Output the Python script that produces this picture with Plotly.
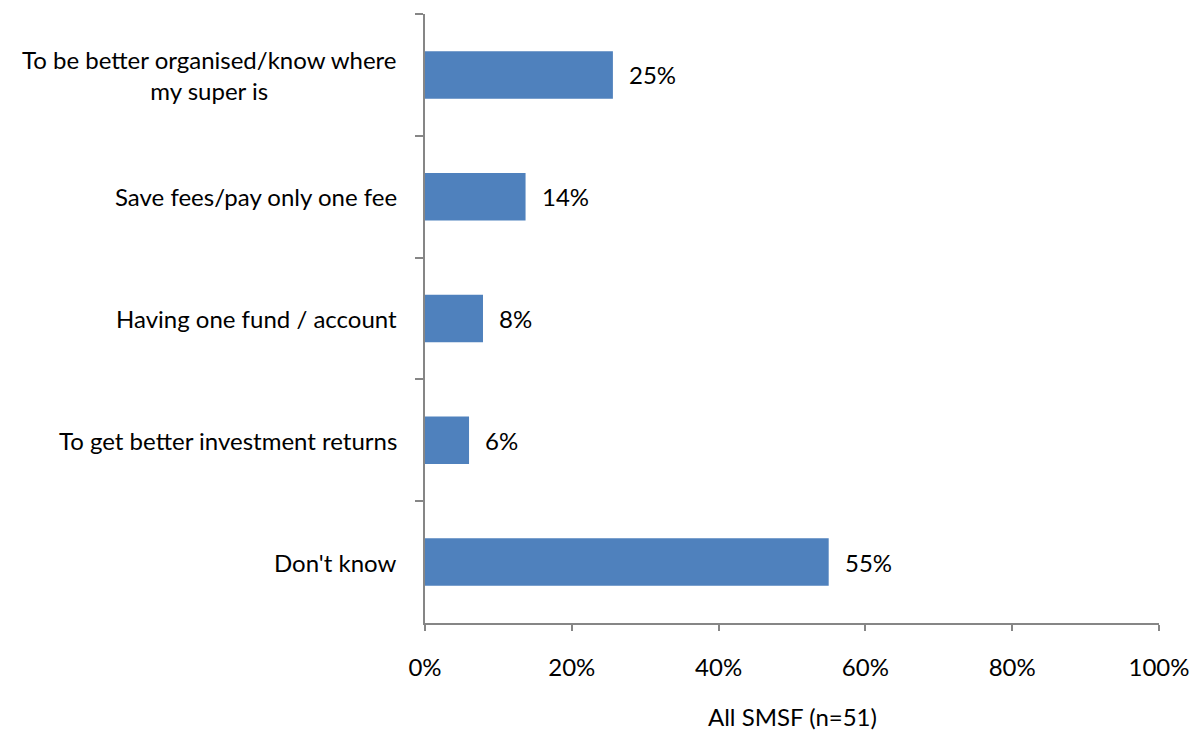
import plotly.graph_objects as go

categories = [
    "To be better organised/know where<br>my super is",
    "Save fees/pay only one fee",
    "Having one fund / account",
    "To get better investment returns",
    "Don't know",
]
values = [25.6, 13.7, 7.9, 6.0, 55.0]
value_labels = ["25%", "14%", "8%", "6%", "55%"]
x_ticks = [0, 20, 40, 60, 80, 100]
x_tick_labels = ["0%", "20%", "40%", "60%", "80%", "100%"]
x_title = "All SMSF (n=51)"

FONT = "Lato"
AXIS_COLOR = "#868686"
BAR_COLOR = "#4F81BD"
FS = 24

fig = go.Figure()
fig.add_trace(go.Bar(
    y=categories, x=values, orientation="h",
    marker=dict(color=BAR_COLOR, line=dict(width=0)),
    hoverinfo="skip",
))

annotations = []
for c, v, t in zip(categories, values, value_labels):
    annotations.append(dict(x=v, y=c, xref="x", yref="y", text=t, showarrow=False,
                            xanchor="left", yanchor="middle", xshift=14,
                            font=dict(family=FONT, size=FS, color="black")))
    annotations.append(dict(x=0, y=c, xref="paper", yref="y", text=c, showarrow=False,
                            xanchor="right", yanchor="middle", xshift=-26, align="center",
                            font=dict(family=FONT, size=FS, color="black")))
annotations.append(dict(x=0.5, y=0, xref="paper", yref="paper", yshift=-93,
                        text=x_title, showarrow=False, xanchor="center", yanchor="middle",
                        font=dict(family=FONT, size=FS, color="black")))

fig.update_layout(
    width=1192, height=731,
    margin=dict(l=425, r=33, t=14, b=108, autoexpand=False),
    paper_bgcolor="white", plot_bgcolor="white",
    showlegend=False,
    bargap=0.61,
    annotations=annotations,
    font=dict(family=FONT, size=FS, color="black"),
)
fig.update_yaxes(
    type="category", autorange="reversed",
    categoryorder="array", categoryarray=categories,
    showticklabels=False, showgrid=False,
    showline=True, linecolor=AXIS_COLOR, linewidth=2,
    ticks="outside", tickson="boundaries", ticklen=8, tickcolor=AXIS_COLOR, tickwidth=2,
    zeroline=False,
)
fig.update_xaxes(
    range=[0, 100], tickvals=x_ticks, ticktext=x_tick_labels,
    showgrid=False, zeroline=False, automargin=False,
    showline=True, linecolor=AXIS_COLOR, linewidth=2,
    ticks="outside", ticklen=6, tickcolor=AXIS_COLOR, tickwidth=2,
    ticklabelstandoff=16, ticklabeloverflow="allow",
    tickfont=dict(family=FONT, size=FS, color="black"),
)

fig.write_html(
    "out.html",
    config={"displayModeBar": False, "staticPlot": True},
    post_script="document.body.style.margin='0';document.body.style.overflow='hidden';",
)
